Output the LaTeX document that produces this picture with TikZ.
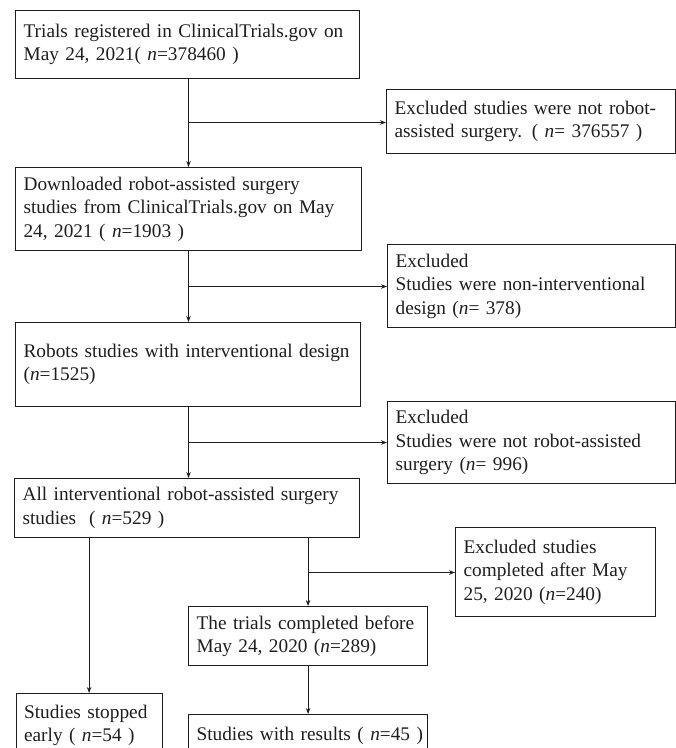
\documentclass[tikz,border=0pt]{standalone}
\usepackage{fontspec}
\setmainfont{Liberation Serif}
\usetikzlibrary{arrows.meta}
\definecolor{ink}{RGB}{30,30,30}
\begin{document}
\begin{tikzpicture}[x=1pt,y=-1pt,
  box/.style={draw=ink, line width=1.2pt, anchor=north west, inner xsep=8pt, inner ysep=0pt,
    align=left, font=\fontsize{19.3}{23.5}\selectfont, text=ink},
  arr/.style={draw=ink, line width=1pt, -{Stealth[length=6pt,width=4.5pt]}}]
\useasboundingbox (0,0) rectangle (676,748);
\clip (0,0) rectangle (676,748);
\node[box, text width=328pt, minimum height=68pt] (b1) at (15,10)
  {\mbox{Trials registered in ClinicalTrials.gov on}\\\mbox{May 24, 2021( \textit{n}=378460 )}};
\node[box, text width=273pt, minimum height=64pt] (e1) at (386,89)
  {\mbox{Excluded studies were not robot-}\\\mbox{assisted surgery. ( \textit{n}= 376557 )}};
\node[box, text width=330pt, minimum height=83pt] (b2) at (15,167)
  {\mbox{Downloaded robot-assisted surgery}\\\mbox{studies from ClinicalTrials.gov on May}\\\mbox{24, 2021 ( \textit{n}=1903 )}};
\node[box, text width=272pt, minimum height=83pt] (e2) at (387,244)
  {\mbox{Excluded}\\\mbox{Studies were non-interventional}\\\mbox{design (\textit{n}= 378)}};
\node[box, text width=329pt, minimum height=84pt] (b3) at (15,322)
  {\mbox{Robots studies with interventional design}\\\mbox{(\textit{n}=1525)}};
\node[box, text width=272pt, minimum height=82pt] (e3) at (387,401)
  {\mbox{Excluded}\\\mbox{Studies were not robot-assisted}\\\mbox{surgery (\textit{n}= 996)}};
\node[box, text width=329pt, minimum height=59pt] (b4) at (14,478)
  {\mbox{All interventional robot-assisted surgery}\\\mbox{studies \ ( \textit{n}=529 )}};
\node[box, text width=184pt, minimum height=89pt] (e4) at (455,527)
  {\mbox{Excluded studies}\\\mbox{completed after May}\\\mbox{25, 2020 (\textit{n}=240)}};
\node[box, text width=223pt, minimum height=59pt] (b5) at (188,606)
  {\mbox{The trials completed before}\\\mbox{May 24, 2020 (\textit{n}=289)}};
\node[box, text width=130pt, minimum height=64pt] (b6) at (15.5,693)
  {\mbox{Studies stopped}\\\mbox{early ( \textit{n}=54 )}};
\node[box, text width=223pt, minimum height=42pt] (b7) at (188,714)
  {\mbox{Studies with results ( \textit{n}=45 )}};
% connectors
\coordinate (j1) at (188.5,122.5);
\coordinate (j2) at (188.5,286.5);
\coordinate (j3) at (188.5,442.5);
\coordinate (j4) at (307.5,572.5);
\draw[arr] (b1.south -| j1) -- (b2.north -| j1);
\draw[arr] (j1) -- (j1 -| e1.west);
\draw[arr] (b2.south -| j2) -- (b3.north -| j2);
\draw[arr] (j2) -- (j2 -| e2.west);
\draw[arr] (b3.south -| j3) -- (b4.north -| j3);
\draw[arr] (j3) -- (j3 -| e3.west);
\draw[arr] (b4.south -| b6.north) -- (b6.north);
\draw[arr] (b4.south -| b5.north) -- (b5.north);
\draw[arr] (j4) -- (j4 -| e4.west);
\draw[arr] (b5.south) -- (b7.north);
\end{tikzpicture}
\end{document}
